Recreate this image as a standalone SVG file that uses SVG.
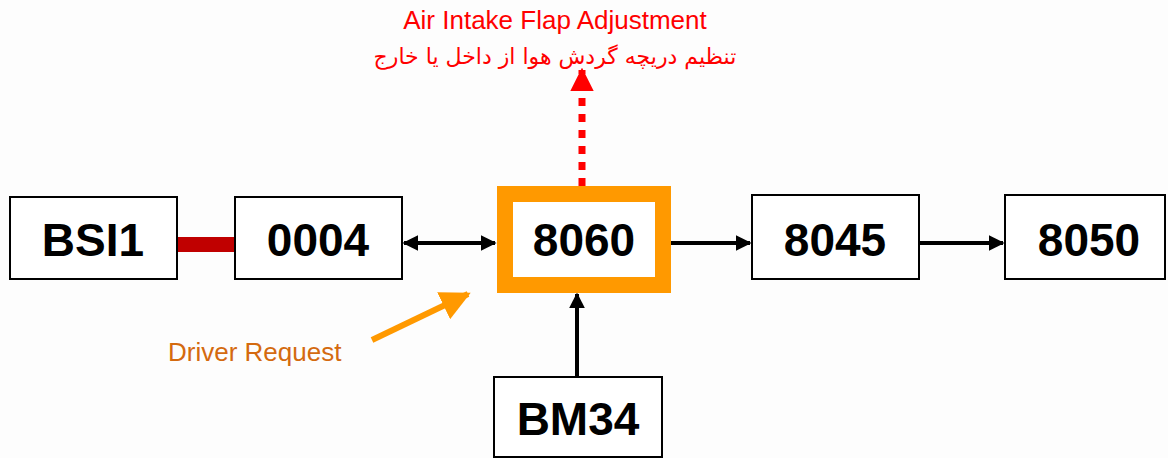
<svg xmlns="http://www.w3.org/2000/svg" width="1168" height="458" viewBox="0 0 1168 458">
<style>
.box{fill:#fff;stroke:#000;stroke-width:2}
.lbl{font-family:"Liberation Sans",Arial,sans-serif;font-weight:bold;font-size:46px;text-anchor:middle;fill:#000}
.conn{stroke:#000;stroke-width:4;fill:none}
.red{font-family:"Liberation Sans","DejaVu Sans",sans-serif;font-size:26px;fill:#ff0000;text-anchor:middle}
</style>
<defs>
<marker id="ah" viewBox="0 0 10 10" refX="9" refY="5" markerWidth="4" markerHeight="4" markerUnits="strokeWidth" orient="auto-start-reverse">
<path d="M0,0 L10,5 L0,10 z" fill="#000"/>
</marker>
<marker id="ahr" viewBox="0 0 10 10" refX="9" refY="5" markerWidth="3.4" markerHeight="3.4" markerUnits="strokeWidth" orient="auto">
<path d="M0,0 L10,5 L0,10 z" fill="#ff0000"/>
</marker>
<marker id="aho" viewBox="0 0 10 10" refX="9" refY="5" markerWidth="5" markerHeight="5" markerUnits="strokeWidth" orient="auto">
<path d="M0,0 L10,5 L0,10 z" fill="#ff9900"/>
</marker>
</defs>
<rect width="1168" height="458" fill="#fdfdfd"/>
<g id="connectors">
<rect x="177" y="237" width="58" height="15" fill="#c00000"/>
<line class="conn" x1="404" y1="243" x2="495" y2="243" marker-start="url(#ah)" marker-end="url(#ah)"/>
<line class="conn" x1="671" y1="243" x2="750" y2="243" marker-end="url(#ah)"/>
<line class="conn" x1="919" y1="243" x2="1003" y2="243" marker-end="url(#ah)"/>
<line class="conn" x1="577" y1="376" x2="577" y2="294" marker-end="url(#ah)"/>
<line x1="582" y1="186" x2="582" y2="70" stroke="#ff0000" stroke-width="7" stroke-dasharray="8 8" marker-end="url(#ahr)"/>
<line x1="372" y1="340" x2="468" y2="294" stroke="#ff9900" stroke-width="6" marker-end="url(#aho)"/>
</g>
<g id="n-bsi1"><rect class="box" x="10" y="197" width="167" height="82"/><text class="lbl" x="93" y="256">BSI1</text></g>
<g id="n-0004"><rect class="box" x="235" y="197" width="167" height="82"/><text class="lbl" x="318" y="256">0004</text></g>
<g id="n-8060"><rect x="505" y="194" width="158" height="91" fill="#fff" stroke="#ff9900" stroke-width="16"/><text class="lbl" x="584" y="256">8060</text></g>
<g id="n-8045"><rect class="box" x="752" y="195" width="167" height="84"/><text class="lbl" x="835" y="256">8045</text></g>
<g id="n-8050"><rect class="box" x="1005" y="195" width="160" height="84"/><text class="lbl" x="1089" y="256">8050</text></g>
<g id="n-bm34"><rect class="box" x="494" y="377" width="168" height="80"/><text class="lbl" x="578" y="435">BM34</text></g>
<g id="labels">
<text class="red" x="555" y="29">Air Intake Flap Adjustment</text>
<text class="red" x="555" y="64" direction="rtl" style="font-family:'DejaVu Sans','Noto Sans',sans-serif;font-size:22px">تنظیم دریچه گردش هوا از داخل یا خارج</text>
<text x="168" y="361" font-family="Liberation Sans, Arial, sans-serif" font-size="26" fill="#d46a0f">Driver Request</text>
</g>
</svg>
